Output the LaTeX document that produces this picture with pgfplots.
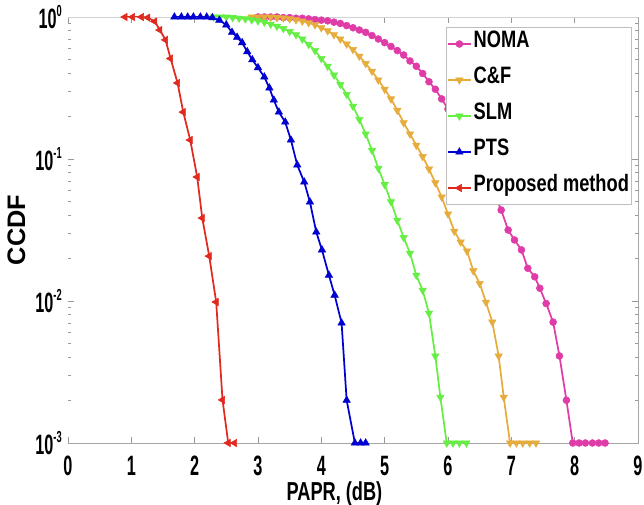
\documentclass[border=0pt]{standalone}
\usepackage{fontspec}
\setmainfont{Liberation Sans}
\newfontfamily\tickfont{Liberation Sans}[FakeStretch=0.58]
\newfontfamily\xlabfont{Liberation Sans}[FakeStretch=0.7]
\newfontfamily\legfont{Liberation Sans}[FakeStretch=0.77]
\usepackage{pgfplots}
\pgfplotsset{compat=1.18}
\definecolor{cNOMA}{HTML}{E03CA8}
\definecolor{cCF}{HTML}{E6AC3C}
\definecolor{cSLM}{HTML}{66EE44}
\definecolor{cPTS}{HTML}{0000D0}
\definecolor{cPRO}{HTML}{E02A20}
\newcommand{\tsup}[1]{\raisebox{9.5pt}{\fontsize{12}{12}\selectfont #1}}
\begin{document}
\begin{tikzpicture}
\path[use as bounding box] (-51pt,-46.5pt) rectangle (432pt,332.25pt);
\begin{axis}[
  at={(0,0)}, anchor=south west,
  scale only axis, width=427.5pt, height=319.5pt,
  xmin=0, xmax=9, ymin=1e-3, ymax=1, ymode=log,
  xtick={0,1,2,3,4,5,6,7,8,9},
  ytick={1e-3,1e-2,1e-1,1},
  yticklabels={10\tsup{-3},10\tsup{-2},10\tsup{-1},10\tsup{0}},
  /pgf/number format/assume math mode=true,
  axis line style={draw=none},
  tick style={gray!80, line width=0.5pt},
  major tick length=4.5pt, minor tick length=2pt,
  tick label style={font=\tickfont\bfseries\fontsize{21}{24}\selectfont},
  xticklabel style={inner sep=0pt, anchor=north, yshift=-9.75pt},
  yticklabel style={inner sep=0pt, anchor=east, xshift=-4.5pt},
  xlabel={PAPR, (dB)},
  xlabel style={at={(axis description cs:0.4675,-0.09)}, anchor=north, inner sep=0pt,
    font=\xlabfont\bfseries\fontsize{19.5}{22}\selectfont},
  ylabel={CCDF},
  ylabel style={at={(axis description cs:-0.0903,0.5)}, anchor=center, inner sep=0pt,
    font=\bfseries\fontsize{19}{22}\selectfont},
  clip=false,
  legend cell align=left,
  legend style={at={(0.9895,0.9765)}, anchor=north east, draw=gray!50, line width=0.5pt,
    fill=white, inner xsep=0.5pt, inner ysep=6pt, row sep=14pt,
    font=\legfont\bfseries\fontsize{17.8}{20}\selectfont,
    nodes={inner sep=1.5pt, text height=0.75em, text depth=0.25em}},
]
% NOMA
\addplot[color=cNOMA, line width=1.3pt, mark=*, mark options={line width=0.4pt, fill=cNOMA}, mark size=2.6pt] coordinates {
(3.0,1) (3.1,1) (3.2,1) (3.3,1) (3.4,0.99) (3.5,0.99) (3.6,0.98) (3.7,0.98) (3.8,0.97) (3.9,0.96)
(4.0,0.95) (4.1,0.94) (4.2,0.92) (4.3,0.90) (4.4,0.87) (4.5,0.84) (4.6,0.81) (4.7,0.78) (4.8,0.74) (4.9,0.70)
(5.0,0.66) (5.1,0.62) (5.2,0.58) (5.3,0.54) (5.4,0.49) (5.5,0.45) (5.6,0.40) (5.7,0.35) (5.8,0.31) (5.9,0.265)
(6.0,0.225) (6.1,0.19) (6.2,0.16) (6.3,0.135) (6.4,0.113) (6.5,0.094) (6.6,0.077) (6.7,0.062) (6.84,0.0437)
(6.95,0.0316) (7.05,0.0269) (7.16,0.0229) (7.26,0.0170) (7.37,0.0148) (7.45,0.0123) (7.55,0.0096)
(7.66,0.0071) (7.76,0.0041) (7.87,0.0020) (7.97,0.001) (8.07,0.001) (8.17,0.001) (8.28,0.001) (8.38,0.001) (8.48,0.001)
};
% C&F
\addplot[color=cCF, line width=1.3pt, mark=triangle*, mark options={rotate=180, line width=0.4pt, fill=cCF}, mark size=3.2pt] coordinates {
(2.9,1) (3.0,1) (3.1,1) (3.2,1) (3.3,0.99) (3.4,0.985) (3.5,0.97) (3.6,0.955) (3.7,0.935) (3.8,0.91) (3.9,0.88)
(4.0,0.84) (4.1,0.80) (4.2,0.75) (4.3,0.70) (4.4,0.645) (4.5,0.59) (4.6,0.53) (4.7,0.47) (4.8,0.415) (4.9,0.36)
(5.0,0.31) (5.1,0.265) (5.2,0.22) (5.3,0.18) (5.4,0.15) (5.5,0.125) (5.6,0.104) (5.7,0.085) (5.8,0.068) (5.9,0.054)
(6.0,0.041) (6.1,0.031) (6.2,0.026) (6.3,0.0225) (6.4,0.0163) (6.5,0.0133) (6.6,0.0098) (6.7,0.0071) (6.8,0.0041)
(6.88,0.0021) (6.98,0.001) (7.08,0.001) (7.18,0.001) (7.29,0.001) (7.39,0.001)
};
% SLM
\addplot[color=cSLM, line width=1.3pt, mark=triangle*, mark options={rotate=180, line width=0.4pt, fill=cSLM}, mark size=3.2pt] coordinates {
(2.3,1) (2.4,1) (2.5,1) (2.6,0.99) (2.7,0.98) (2.8,0.97) (2.9,0.955) (3.0,0.94) (3.1,0.92) (3.2,0.89)
(3.3,0.86) (3.4,0.83) (3.5,0.79) (3.6,0.75) (3.7,0.70) (3.8,0.64) (3.9,0.58) (4.0,0.51) (4.1,0.45) (4.2,0.39)
(4.3,0.335) (4.4,0.285) (4.5,0.235) (4.6,0.19) (4.7,0.15) (4.8,0.115) (4.9,0.086) (5.0,0.066) (5.1,0.050)
(5.2,0.037) (5.3,0.028) (5.4,0.0217) (5.5,0.0152) (5.6,0.0119) (5.7,0.0082) (5.8,0.0041) (5.88,0.0021)
(5.98,0.001) (6.08,0.001) (6.18,0.001) (6.29,0.001)
};
% PTS
\addplot[color=cPTS, line width=1.3pt, mark=triangle*, mark options={line width=0.4pt, fill=cPTS}, mark size=3.2pt] coordinates {
(1.68,1) (1.79,1) (1.89,1) (1.98,1) (2.09,1) (2.19,1) (2.28,0.99) (2.39,0.95) (2.50,0.88) (2.59,0.78)
(2.67,0.72) (2.75,0.66) (2.83,0.57) (2.91,0.50) (3.00,0.44) (3.10,0.378) (3.18,0.316) (3.25,0.260)
(3.33,0.214) (3.43,0.182) (3.52,0.136) (3.62,0.0907) (3.73,0.0689) (3.82,0.0498) (3.92,0.0306)
(4.01,0.0229) (4.12,0.0152) (4.21,0.0110) (4.32,0.0070) (4.40,0.0020) (4.53,0.001) (4.62,0.001) (4.70,0.001)
};
% Proposed
\addplot[color=cPRO, line width=1.3pt, mark=triangle*, mark options={rotate=90, line width=0.4pt, fill=cPRO}, mark size=3.2pt] coordinates {
(0.90,1) (1.02,1) (1.16,1) (1.26,0.99) (1.37,0.93) (1.45,0.81) (1.54,0.69) (1.62,0.51) (1.73,0.343)
(1.82,0.214) (1.93,0.136) (2.04,0.0747) (2.12,0.0384) (2.23,0.0207) (2.34,0.00984) (2.44,0.00201)
(2.53,0.001) (2.63,0.001)
};
\legend{NOMA, C\&F, SLM, PTS, Proposed method}
\draw[gray!35, line width=0.6pt] (rel axis cs:0,1) -- (rel axis cs:1,1);
\draw[gray!70, line width=0.6pt] (rel axis cs:0,0) -- (rel axis cs:1,0) -- (rel axis cs:1,1);
\end{axis}
\end{tikzpicture}
\end{document}
